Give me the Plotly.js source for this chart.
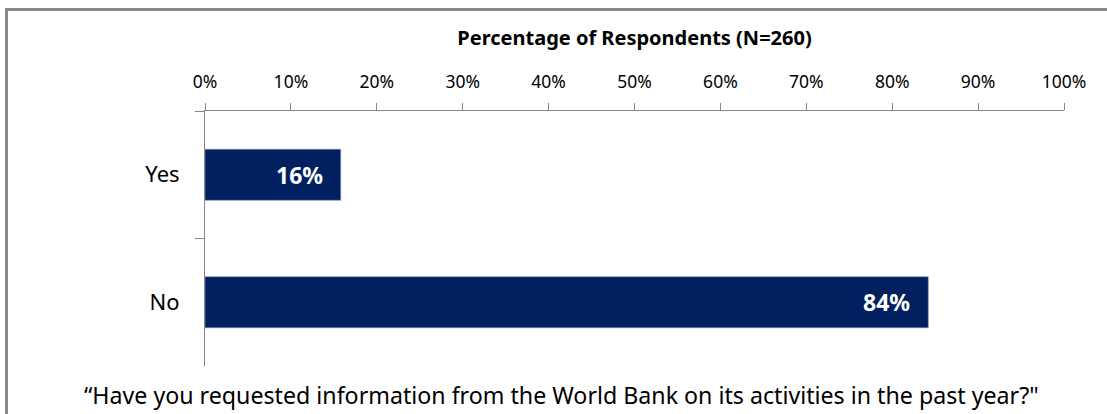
<!DOCTYPE html>
<html>
<head>
<meta charset="utf-8">
<script src="https://cdn.plot.ly/plotly-3.0.1.min.js"></script>
<style>
  html, body { margin:0; padding:0; overflow:hidden; background:#fff; }
  #chart { width:1107px; height:414px; position:absolute; left:0; top:0; }
  #frame { position:absolute; left:5px; top:8px; width:1300px; height:600px;
           border:3px solid #878787; pointer-events:none; box-sizing:border-box; }
</style>
</head>
<body>
<div id="chart"></div>
<div id="frame"></div>
<script>
// Data
const categories = ['Yes', 'No'];
const percentages = [15.8, 84.2];
const valueLabels = ['16%', '84%'];
const tickValues = [0, 10, 20, 30, 40, 50, 60, 70, 80, 90, 100];
const tickLabels = ['0%', '10%', '20%', '30%', '40%', '50%', '60%', '70%', '80%', '90%', '100%'];
const axisTitle = 'Percentage of Respondents (N=260)';
const caption = '\u201CHave you requested information from the World Bank on its activities in the past year?"';

const FONT = 'Noto Sans, Open Sans, sans-serif';

const trace = {
  type: 'bar',
  orientation: 'h',
  x: percentages,
  y: categories,
  marker: { color: '#002060', line: { color: '#7f8fb5', width: 0.6 } },
  hoverinfo: 'skip'
};

const annotations = categories.map((c, i) => ({
  x: percentages[i], y: c, xref: 'x', yref: 'y',
  text: '<b>' + valueLabels[i] + '</b>',
  showarrow: false, xanchor: 'right', yanchor: 'middle', xshift: -16,
  font: { family: FONT, size: 23, color: '#ffffff' }
}));
annotations.push({
  x: 0.415, y: -0.112, xref: 'paper', yref: 'paper',
  text: caption, showarrow: false, xanchor: 'center', yanchor: 'middle',
  font: { family: FONT, size: 23.2, color: '#000000' }
});

const layout = {
  width: 1107, height: 414,
  margin: { l: 205, r: 43, t: 111, b: 48, pad: 0 },
  paper_bgcolor: '#ffffff', plot_bgcolor: '#ffffff',
  showlegend: false,
  bargap: 0.6,
  font: { family: FONT, color: '#000' },
  xaxis: {
    side: 'top', range: [0, 100], tickvals: tickValues, ticktext: tickLabels,
    showgrid: false, zeroline: false, showline: true, linecolor: '#868686', linewidth: 1,
    ticks: 'outside', ticklen: 7, tickcolor: '#868686', ticklabelstandoff: 8,
    tickfont: { family: FONT, size: 17.5, color: '#000' },
    title: { text: '<b>' + axisTitle + '</b>', standoff: 18,
             font: { family: FONT, size: 20, color: '#000' } },
    fixedrange: true
  },
  yaxis: {
    autorange: 'reversed', showgrid: false, zeroline: false,
    showline: true, linecolor: '#868686', linewidth: 1,
    ticks: 'outside', tickson: 'boundaries', ticklen: 9, tickcolor: '#868686',
    ticklabelstandoff: 20,
    tickfont: { family: FONT, size: 22, color: '#000' },
    fixedrange: true
  },
  annotations: annotations
};

Plotly.newPlot('chart', [trace], layout, { displayModeBar: false, staticPlot: true });
</script>
</body>
</html>
